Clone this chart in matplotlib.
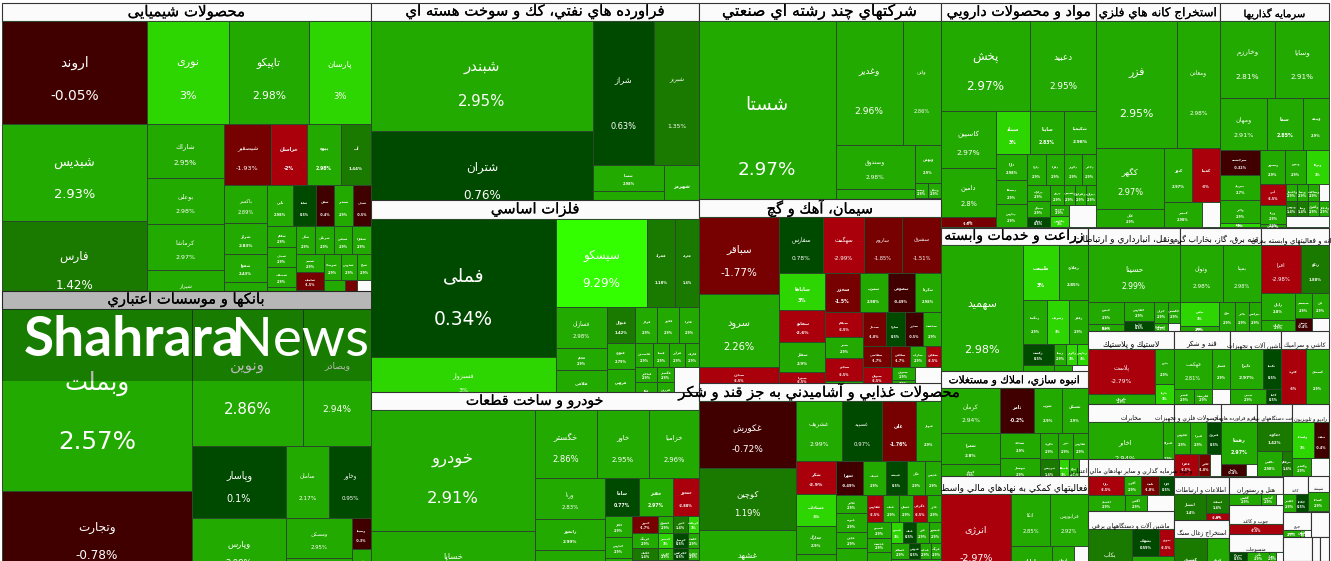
import matplotlib
matplotlib.use('Agg')
import matplotlib.pyplot as plt
import matplotlib.patheffects as pe
from matplotlib.patches import Rectangle

# values: names, change in percent, tile area (px^2) and
# the run lengths of the treemap strips (+n column on the left, -n row on top)
# None marks a tile without data, those are drawn white
chem_names = ['اروند', 'شبدیس', 'فارس', 'نوری', 'تاپیکو', 'پارسان', 'شاراك', 'بوعلی', 'كرماشا', 'شیراز',
              'شیصفیر', 'خراسان', 'بیوه', 'آپ', 'باكسر', 'شراز', 'شفوا', 'شیران', 'نابی', 'شلیا', 'شفن', 'شغدیر', 'شپلی',
              'شكام', 'شملی', 'شصدف', 'شكلر', 'شگل', 'شرنگی', 'شپاس', 'شفارا', 'شسم', 'شلعاب', 'شكبیر',
              'شوینده', 'شدوص', 'شیخ', 'شتوكا', 'شهام', '']
chem_changes = [-0.05, 2.93, 1.42, 3, 2.98, 3, 2.95, 2.98, 2.97, 2.9,
                -1.93, -2, 2.98, 1.44, 2.89, 2.83, 2.43, 2.9, 2.98, 0.5, -0.4, 2.9, -0.5,
                2.9, 2.9, 2.9, 2.9, 2.9, 2.9, 2.9, 2.9, 2.9, -1.5, 2.9,
                2.9, 2.9, 2.9, 2.9, -1.5, None]
chem_areas = [14935, 13920, 12760, 8446, 8240, 6386, 4158, 3542, 3542, 3003,
              2867, 2196, 2074, 1830, 1634, 1333, 1204, 1161, 1066, 943, 738, 779, 738,
              609, 580, 580, 638, 532, 532, 504, 532, 486, 486, 513,
              442, 416, 364, 609, 348, 406]
chem_runs = [3, -3, 4, -4, 4, -5, 4, -4, 3, -3, -3]

bank_names = ['وبملت', 'وتجارت', 'ونوین', 'وبصادر', 'وپاسار', 'سامان', 'وخاور', 'وپارس', 'ومسكن', 'وكار', 'وسینا', 'وشهر']
bank_changes = [2.57, -0.78, 2.86, 2.94, 0.1, 2.17, 0.95, 2.98, 2.95, 2.9, -0.3, 2.9]
bank_areas = [34580, 16910, 15207, 9316, 6768, 3096, 3024, 5828, 2640, 1452, 589, 589]
bank_runs = [2, -2, -3, 1, 2, 2]

refinery_names = ['شبندر', 'شتران', 'شراز', 'شبریز', 'شسپا', 'شنفت', 'شهرمز']
refinery_changes = [2.95, 0.76, 0.63, 1.35, 2.98, 2.9, 2.98]
refinery_areas = [24420, 19536, 8784, 6480, 1846, 1988, 1890]
refinery_runs = [2, -2, 2, 1]

metal_names = ['فملی', 'فسبزوار', 'سیسکو', 'فمراد', 'فلوله', 'فسازان', 'فجام', 'فلامی', 'فنوال', 'فولاژ', 'فخوز', 'فایرا',
               'فنورد', 'فروس', 'فاسمین', 'فپنتا', 'فرآور', 'فاراك', 'فباهنر', 'فكا', 'فگستر', 'فزرین', '']
metal_changes = [0.34, 3, 9.29, 1.18, 1.4, 2.98, 2.9, 2.9, 1.42, 2.9, 2.9, 2.9,
                 2.79, 2.9, 2.9, 2.9, 2.9, 2.9, 2.9, 2.9, 2.9, 2.9, None]
metal_areas = [25530, 8510, 8008, 2464, 2112, 2091, 1122, 1683, 1008, 792, 792, 720,
               728, 952, 432, 384, 384, 336, 330, 462, 255, 357, 900]
metal_runs = [2, -3, 3, -4, 2, -4, 2, 2, 1]

auto_names = ['خودرو', 'خساپا', 'خگستر', 'خاور', 'خزامیا', 'ورنا', 'رانفور', 'خبهمن', 'ساما', 'خفنر', 'خمحور',
              'خكار', 'خپارس', 'ختوقا', 'خمهر', 'خشرق', 'ختور', 'خریخت', 'خرینگ', 'خنصیر', 'خوساز', 'خلنت', 'خكمك', 'خاذین', 'خچرخش', 'خكاوه', 'خمحركه']
auto_changes = [2.91, 2.9, 2.86, 2.95, 2.96, 2.83, 2.99, 2.9, 0.77, 2.97, -2.88,
                2.9, 2.9, 2.9, -1.7, 2.9, 1.4, 3, 2.9, 3, 0.5, 2.9, 1.4, 2.9, 0.5, 2.9, 2.9]
auto_areas = [19844, 10004, 4216, 3536, 3400, 2870, 2170, 2940, 1292, 1292, 988,
              567, 567, 918, 442, 255, 255, 187, 390, 225, 225, 165, 312, 180, 180, 132, 2144]
auto_runs = [2, -3, 3, -3, 3, -4, -4, -4, 1]

multi_names = ['شستا', 'وغدیر', 'واتی', 'وصندوق', 'وبانك', 'وبهمن', 'وسپه', 'ونیكی', 'وصنعت']
multi_changes = [2.97, 2.96, 2.86, 2.98, 2.9, 2.9, 2.9, 2.9, 2.9]
multi_areas = [27744, 8308, 4712, 3476, 2844, 988, 195, 195, 702]
multi_runs = [1, -2, 2, -1, -2, 1]

cement_names = ['سباقر', 'سرود', 'سمازن', 'سفارس', 'سهگمت', 'ساروم', 'سشرق', 'ساباها', 'سفانو', 'سفار', 'سبزوا',
                'سخزر', 'سغرب', 'سصوفی', 'سكرما', 'سیلام', 'سنیر', 'سبجنو', 'سكارون', 'سمتاز', 'ساوه', 'سدور', 'سدشت',
                'سفاسی', 'سخاش', 'ساراب', 'سقاین', 'سبهان', 'سنوین', 'سیدكو', '']
cement_changes = [-1.77, 2.26, -2.5, 0.78, -2.99, -1.85, -1.51, 3, -2.6, 2.9, -2.5,
                  -1.5, 2.98, -0.49, 2.98, -2.5, 2.9, -2.5, 2.9, -1.8, 0.5, -0.5, 2.9,
                  -1.7, -1.7, 2.9, -2.5, -2.5, 2.9, 2.9, None]
cement_areas = [6160, 5840, 1520, 2464, 2296, 2128, 2184, 1702, 1472, 1380, 644,
                1326, 1092, 1053, 1014, 925, 777, 851, 185, 782, 646, 612, 612,
                588, 399, 336, 315, 551, 299, 138, 494]
cement_runs = [3, -4, 4, -4, 4, -4, -4, 1, 2, 1]

food_names = ['غكورش', 'كوچین', 'غشهد', 'غشریف', 'غسپید', 'غلی', 'غبهار', 'شكر', 'غشاداب', 'غمارگ', 'غدام',
              'غمهرا', 'غنیلك', 'غبیشه', 'غگل', 'غدیس', 'غالبر', 'غپونه', 'غچین', 'غپینو',
              'غفارس', 'غناب', 'غشان', 'غگرجی', 'غاذر', 'غصینو', 'غدشت', 'غویتا', 'غمینو', 'غپاك', 'غزر', 'غبشهر',
              'غسالم', 'غنوش', 'غمایه', 'غرنگ', 'غسهل']
food_changes = [-0.72, 1.19, 2.9, 2.99, 0.97, -1.76, 2.9, -2.9, 3, 2.9, 2.9,
                -0.49, 2.9, 0.5, 2.9, 2.9, 2.9, 2.9, 2.9, 2.9,
                -2.5, 2.9, 2.9, -2.5, 2.9, 2.9, 2.9, 2.9, 3, 0.5, 2.9, 2.9,
                2.9, 0.5, 2.9, 2.9, 2.9]
food_areas = [6499, 6014, 6014, 2700, 2400, 2040, 1500, 1287, 1248, 1092, 1482,
              918, 782, 714, 612, 544, 558, 589, 496, 1364,
              432, 432, 378, 378, 378, 384, 336, 960, 252, 273, 273, 252,
              288, 176, 176, 160, 1650]
food_runs = [3, -4, 4, -5, 4, -5, 3, -4, -4, -1]

pharma_names = ['پخش', 'دعبید', 'كاسپین', 'دامین', 'دالبر', 'سیناد', 'ساینا', 'شكیمیا', 'دارا', 'دسبحا', 'دپارس',
                'داوه', 'دفرا', 'دكوثر', 'دجابر', 'درازك', 'تیپیكو', 'دتماد', 'دروز', 'دشیمی', 'دزهراوی', 'دیران', 'دتوزیع', 'دقاضی', '']
pharma_changes = [2.97, 2.95, 2.97, 2.8, -1.8, 3, 2.83, 2.98, 2.98, 2.9, 2.9,
                  2.9, 2.9, 2.9, 2.9, 2.9, 2.9, 0.5, 2.9, 2.9, 2.9, 2.9, 2.9, 3, None]
pharma_areas = [8010, 5940, 3135, 2695, 550, 1462, 1462, 1376, 806, 744, 713,
                589, 558, 558, 434, 368, 368, 230, 280, 220, 220, 200, 209, 209, 594]
pharma_runs = [-2, 3, -3, 3, -4, 3, -4, 2, 1]

mining_names = ['فزر', 'ومعادن', 'كگهر', 'كگل', 'كنور', 'كمینا', 'كمسر', '']
mining_changes = [2.95, 2.98, 2.97, 2.9, 2.97, -3, 2.98, None]
mining_areas = [10287, 5461, 4148, 1224, 1512, 1512, 950, 450]
mining_runs = [-2, 2, -2, 1, 1]

invest_names = ['وخارزم', 'وسایا', 'ومهان', 'سما', 'وبیمه', 'سرچشمه', 'میرداد', 'والبر', 'وصنا', 'وسپهر', 'ونیرو', 'وتوكا',
                'آپرد', 'ورنا', 'وكبهمن', 'واعتبار', 'وپسا', 'وساخت', '', 'وتوس', 'وصا', 'وآفری', 'ولتجار', '']
invest_changes = [2.81, 2.91, 2.91, 2.85, 2.9, -0.32, 2.7, 2.9, 3, 2.9, 2.9, 3,
                  -2.5, 2.9, 2.9, 2.9, 2.9, 2.9, None, 1.4, 1.4, 2.9, 2.9, None]
invest_areas = [4235, 4158, 2444, 1872, 1352, 1000, 1000, 920, 160, 850, 714, 782,
                546, 494, 78, 187, 187, 187, 170, 165, 165, 165, 150, 473]
invest_runs = [-2, -3, 4, -3, 3, -4, -4, -1]

agri_names = ['سهمید', 'طبیعت', 'زملارد', 'زمگسا', 'زشریف', 'زفجر', 'زكشت', 'زشگزا', 'زبینا', 'زكوثر', 'زپارس', 'زدشت', '']
agri_changes = [2.98, 3, 2.85, 2.9, 3, 2.9, 0.5, 2.9, 2.9, 3, 3, 2.9, None]
agri_areas = [11808, 1980, 1595, 1056, 968, 836, 651, 744, 252, 231, 231, 432, 384]
agri_runs = [1, -2, -3, 2, -3, 1, 1]

estate_names = ['كرمان', 'ثامر', 'ثغرب', 'ثمسكن', 'ثعمرا', 'كهرم', 'ثشاهد', 'ثبهساز', 'ثالوند', 'ثنور', 'ثفارس',
                'ثپردیس', 'ثاصفا', 'ثباغ', '']
estate_changes = [2.94, -0.2, 2.9, 2.9, 2.8, 2.9, 2.9, 2.9, 2.9, 2.9, 2.9, 1.4, 3, 2.9, None]
estate_areas = [2655, 1530, 1260, 1170, 1829, 1003, 1000, 920, 468, 390, 390, 418, 220, 220, 198]
estate_runs = [-4, 2, 2, -3, 1, 1, 1, 1]

finance_names = ['انرژی', 'اتكا', 'فرابورس', 'مارلیك', 'آرمان', '']
finance_changes = [-2.97, 2.85, 2.92, 2.9, 2.9, None]
finance_areas = [6160, 2028, 1976, 1476, 792, 504]
finance_runs = [1, -2, 1, 1, 1]

transport_names = ['حسینا', 'حپترو', 'حتوكا', 'حفارس', 'حآسا', 'حریل', 'حشكوه', 'حكشتی', '']
transport_changes = [2.99, 2.9, 2.9, 2.9, 0.5, 2.9, 2.9, 2.9, None]
transport_areas = [5152, 792, 252, 570, 300, 294, 112, 252, 96]
transport_runs = [-1, 2, 2, 2, 2]

power_names = ['وتوان', 'بمپنا', 'بپاس', 'بكام', 'برق', 'بالبر', 'بترانس']
power_changes = [2.98, 2.98, 3, 2.9, 2.9, 2.9, 2.9]
power_areas = [2408, 2128, 936, 195, 464, 406, 348]
power_runs = [-2, 2, 1, 1, 1]

it_names = ['افرا', 'رتكو', 'رایان', 'مداران', 'سیستم', 'فن', 'توسن', '']
it_changes = [-2.98, 1.88, 2.8, 2.9, 2.9, 2.9, -0.4, None]
it_areas = [1880, 1316, 918, 374, 425, 425, 221, 221]
it_runs = [-2, 2, -2, 1, 1]

plastic_names = ['پلاست', 'پكرمان', 'پدرو', 'پارتا']
plastic_changes = [-2.79, 2.9, 2.9, 3]
plastic_areas = [3015, 737, 665, 399]
plastic_runs = [2, 2]

sugar_names = ['قهكمت', 'قشكر', 'قشیر', 'قلرست', '']
sugar_changes = [2.81, 2.9, 2.9, 2.9, None]
sugar_areas = [1520, 720, 300, 270, 270]
sugar_runs = [-2, 1, 1, 1]

machine_names = ['تایرا', 'تكمبا', 'تپمپی', 'كاما']
machine_changes = [2.97, 0.5, 2.9, 0.5]
machine_areas = [1320, 720, 540, 225]
machine_runs = [-2, 1, 1]

ceramic_names = ['كلوند', 'كسعدی']
ceramic_changes = [-3, 2.9]
ceramic_areas = [1375, 1265]
ceramic_runs = [1, 1]

telecom_names = ['اخابر', 'همراه']
telecom_changes = [2.94, 2.9]
telecom_areas = [3750, 550]
telecom_runs = [1, 1]

metalwork_names = ['فجوش', 'فبیرا', 'فنرژی', 'فافزا', 'لخزر', '']
metalwork_changes = [2.9, 2.9, 0.5, -2.5, -1.8, None]
metalwork_areas = [512, 544, 448, 550, 242, 242]
metalwork_runs = [-3, 1, 1, 1]

rubber_names = ['رهشا', 'پاسا', '']
rubber_changes = [2.97, -0.4, None]
rubber_areas = [1512, 300, 132]
rubber_runs = [-1, 1, 1]

electric_names = ['دماوند', 'بالاس', 'مرقام']
electric_changes = [1.42, 2.98, 1.4]
electric_areas = [1015, 625, 250]
electric_runs = [-1, 1, 1]

radio_names = ['ولساپا', 'تملت', 'وكغدیر', '']
radio_changes = [3, -0.4, 2.9, None]
radio_areas = [792, 540, 342, 324]
radio_runs = [-2, 1, 1]

fund_names = ['دارا', 'آكورد', 'ثابت', 'كارا', 'اعتماد', 'آگاس', '']
fund_changes = [-2.5, 2.9, -1.8, 0.5, 2.9, 2.9, None]
fund_areas = [684, 323, 342, 285, 592, 352, 432]
fund_runs = [-4, 1, 1, 1]

info_names = ['انتشار', 'اسفند', 'افق']
info_changes = [1.4, 1.4, -2.5]
info_areas = [832, 437, 161]
info_runs = [1, 2]

device_names = ['بكاب', 'بشهاب', 'بموتو', 'بتك']
device_changes = [1.17, 0.59, -2.5, 2.9]
device_areas = [2684, 702, 405, 1428]
device_runs = [1, -2, -1]

coal_names = ['كشرق', 'كروم']
coal_changes = [1.4, 2.9]
coal_areas = [1716, 1144]
coal_runs = [1, 1]

hotel_names = ['گكیش', 'گپارس', '']
hotel_changes = [2.9, 2.9, None]
hotel_areas = [440, 198, 99]
hotel_runs = [1, 1, 1]

wood_names = ['مالی']
wood_changes = [-2.5]
wood_areas = [540]
wood_runs = [1]

textile_names = ['نبروج', 'نگین', 'نمرا', '']
textile_changes = [0.5, 2.9, 2.9, None]
textile_areas = [162, 198, 60, 66]
textile_runs = [1, 1, 1, 1]

paper_names = ['چفیبر', 'چكاپا']
paper_changes = [2.9, 0.5]
paper_areas = [216, 216]
paper_runs = [1, 1]

glass_names = ['كساپا']
glass_changes = [2.9]
glass_areas = [399]
glass_runs = [1]

leather_names = ['بشیر', 'بگیلان', '']
leather_changes = [2.9, 3, None]
leather_areas = [168, 42, 66]
leather_runs = [1, 1, 1]

# title, data, then x0, x1, header top, tile top, tile bottom, title size (px)
# later sectors paint over the overflow of earlier ones, same as the page does
sectors = [
    ('محصولات شیمیایی', chem_names, chem_changes, chem_areas, chem_runs, 2, 371, 3, 21, 309, 15),
    ('بانكها و موسسات اعتباري', bank_names, bank_changes, bank_areas, bank_runs, 2, 371, 291, 309, 580, 14.7),
    ('فراورده هاي نفتي، كك و سوخت هسته اي', refinery_names, refinery_changes, refinery_areas, refinery_runs, 371, 699, 3, 21, 219, 14.9),
    ('شركتهاي چند رشته اي صنعتي', multi_names, multi_changes, multi_areas, multi_runs, 699, 941, 3, 21, 225, 15.7),
    ('مواد و محصولات دارويي', pharma_names, pharma_changes, pharma_areas, pharma_runs, 941, 1096, 3, 21, 227, 14.3),
    ('استخراج كانه هاي فلزي', mining_names, mining_changes, mining_areas, mining_runs, 1096, 1220, 3, 21, 227, 12),
    ('سرمايه گذاريها', invest_names, invest_changes, invest_areas, invest_runs, 1220, 1329, 3, 21, 227, 10),
    ('فلزات اساسي', metal_names, metal_changes, metal_areas, metal_runs, 371, 699, 200, 219, 403, 14.8),
    ('سيمان، آهك و گچ', cement_names, cement_changes, cement_areas, cement_runs, 699, 941, 199, 217, 386, 14.6),
    ('زراعت و خدمات وابسته', agri_names, agri_changes, agri_areas, agri_runs, 941, 1088, 228, 245, 389, 14),
    ('حمل ونقل، انبارداري و ارتباطات', transport_names, transport_changes, transport_areas, transport_runs, 1088, 1180, 228, 245, 331, 9),
    ('عرضه برق، گاز، بخاراب گرم', power_names, power_changes, power_areas, power_runs, 1180, 1261, 228, 245, 331, 8),
    ('رايانه و فعاليتهاي وابسته به آن', it_names, it_changes, it_areas, it_runs, 1261, 1329, 228, 245, 331, 7),
    ('انبوه سازي، املاك و مستغلات', estate_names, estate_changes, estate_areas, estate_runs, 941, 1088, 371, 388, 481, 10.6),
    ('لاستيك و پلاستيك', plastic_names, plastic_changes, plastic_areas, plastic_runs, 1088, 1174, 331, 349, 405, 8),
    ('قند و شكر', sugar_names, sugar_changes, sugar_areas, sugar_runs, 1174, 1230, 331, 349, 404, 7),
    ('ماشين آلات و تجهيزات', machine_names, machine_changes, machine_areas, machine_runs, 1230, 1281, 331, 349, 404, 6),
    ('كاشي و سراميك', ceramic_names, ceramic_changes, ceramic_areas, ceramic_runs, 1281, 1329, 331, 349, 404, 6),
    ('خودرو و ساخت قطعات', auto_names, auto_changes, auto_areas, auto_runs, 371, 699, 392, 410, 592, 14.1),
    ('محصولات غذايي و آشاميدني به جز قند و شكر', food_names, food_changes, food_areas, food_runs, 699, 941, 383, 401, 592, 14.7),
    ('مخابرات', telecom_names, telecom_changes, telecom_areas, telecom_runs, 1088, 1174, 404, 422, 472, 6),
    ('ساخت محصولات فلزي و تجهيزات', metalwork_names, metalwork_changes, metalwork_areas, metalwork_runs, 1174, 1221, 404, 422, 476, 6),
    ('لاستيك و فراورده هاي آن', rubber_names, rubber_changes, rubber_areas, rubber_runs, 1221, 1257, 404, 422, 476, 5),
    ('ساخت دستگاههاي برقي', electric_names, electric_changes, electric_areas, electric_runs, 1257, 1292, 404, 422, 476, 5),
    ('راديو و تلويزيون', radio_names, radio_changes, radio_areas, radio_runs, 1292, 1329, 404, 422, 476, 5),
    ('فعاليتهاي كمكي به نهادهاي مالي واسط', finance_names, finance_changes, finance_areas, finance_runs, 941, 1088, 476, 494, 582, 9),
    ('وجوه سرمايه گذاري و ساير نهادهاي مالي اعتباري', fund_names, fund_changes, fund_areas, fund_runs, 1088, 1174, 459, 476, 511, 6),
    ('اطلاعات و ارتباطات', info_names, info_changes, info_areas, info_runs, 1174, 1229, 477, 494, 520, 6),
    ('هتل و رستوران', hotel_names, hotel_changes, hotel_areas, hotel_runs, 1229, 1283, 477, 494, 505, 6),
    ('ماشين آلات و دستگاههاي برقي', device_names, device_changes, device_areas, device_runs, 1088, 1174, 511, 529, 590, 6),
    ('استخراج زغال سنگ', coal_names, coal_changes, coal_areas, coal_runs, 1174, 1229, 520, 538, 590, 6),
    ('چوب و كاغذ', wood_names, wood_changes, wood_areas, wood_runs, 1229, 1283, 505, 524, 534, 5),
    ('منسوجات', textile_names, textile_changes, textile_areas, textile_runs, 1229, 1283, 534, 552, 561, 5),
    ('كاغذ', paper_names, paper_changes, paper_areas, paper_runs, 1283, 1308, 476, 494, 512, 4),
    ('چرم', leather_names, leather_changes, leather_areas, leather_runs, 1283, 1311, 512, 530, 537, 4),
    ('شيشه', glass_names, glass_changes, glass_areas, glass_runs, 1308, 1329, 476, 492, 511, 4),
]
empty_boxes = [(1311, 512, 1329, 537), (1283, 537, 1312, 561), (1312, 537, 1320, 561), (1320, 537, 1329, 561)]

TEXT_FONT = 'DejaVu Sans'

# first code point of the isolated, final, initial, medial forms
FOUR = {'ب': 0xFE8F, 'ت': 0xFE95, 'ث': 0xFE99, 'ج': 0xFE9D, 'ح': 0xFEA1, 'خ': 0xFEA5, 'س': 0xFEB1,
        'ش': 0xFEB5, 'ص': 0xFEB9, 'ض': 0xFEBD, 'ط': 0xFEC1, 'ظ': 0xFEC5, 'ع': 0xFEC9, 'غ': 0xFECD,
        'ف': 0xFED1, 'ق': 0xFED5, 'ك': 0xFED9, 'ل': 0xFEDD, 'م': 0xFEE1, 'ن': 0xFEE5, 'ه': 0xFEE9,
        'ي': 0xFEF1, 'پ': 0xFB56, 'چ': 0xFB7A, 'ک': 0xFB8E, 'گ': 0xFB92, 'ی': 0xFBFC}
TWO = {'آ': 0xFE81, 'أ': 0xFE83, 'ا': 0xFE8D, 'د': 0xFEA9, 'ذ': 0xFEAB, 'ر': 0xFEAD, 'ز': 0xFEAF,
       'و': 0xFEED, 'ژ': 0xFB8A}


def shape(text):
    # matplotlib does no arabic shaping, so pick the joined forms and reverse
    out = []
    i = 0
    while i < len(text):
        ch = text[i]
        prev = text[i - 1] if i > 0 else ' '
        nxt = text[i + 1] if i + 1 < len(text) else ' '
        joined = prev in FOUR
        if ch == 'ل' and nxt in 'اآ':
            out.append(chr(0xFEFC if joined else 0xFEFB))
            i += 2
            continue
        if ch in FOUR:
            form = (2 if nxt in FOUR or nxt in TWO else 0) + (1 if joined else 0)
            # 0 iso, 1 final, 2 initial, 3 medial
            out.append(chr(FOUR[ch] + form))
        elif ch in TWO:
            out.append(chr(TWO[ch] + (1 if joined else 0)))
        else:
            out.append(ch)
        i += 1
    return ''.join(reversed(out))


def change_colour(value):
    if value is None:
        return '#fbfbfb'
    if value > 5:
        return '#33ff00'
    if value >= 3:
        return '#2dd600'
    if value >= 2:
        return '#22aa00'
    if value >= 1:
        return '#1a7a00'
    if value >= 0:
        return '#004a00'
    if value > -1:
        return '#400000'
    if value > -2:
        return '#770000'
    return '#aa000c'


def layout(areas, runs, x0, y0, x1, y1):
    # cut strips off the remaining box, each in proportion to its area
    boxes = []
    left = sum(areas)
    pos = 0
    for run in runs:
        n = abs(run)
        part = areas[pos:pos + n]
        share = sum(part) / left
        if run > 0:
            edge = x0 + (x1 - x0) * share
            y = y0
            for a in part:
                h = (y1 - y0) * a / sum(part)
                boxes.append((x0, y, edge, y + h))
                y += h
            x0 = edge
        else:
            edge = y0 + (y1 - y0) * share
            x = x0
            for a in part:
                w = (x1 - x0) * a / sum(part)
                boxes.append((x, y0, x + w, edge))
                x += w
            y0 = edge
        left -= sum(part)
        pos += n
    return boxes


def px(size):
    return size * 0.72


fig = plt.figure(figsize=(13.31, 5.61), dpi=100)
ax = fig.add_axes([0, 0, 1, 1])
ax.set_xlim(0, 1331)
ax.set_ylim(561, 0)
ax.axis('off')

z = 1
for title, names, changes, areas, runs, x0, x1, top, tile_top, bottom, title_size in sectors:
    ax.add_patch(Rectangle((x0, top), x1 - x0, tile_top - top, fc='#fbfbfb', ec='#333333', lw=0.8, zorder=z))
    label = ax.text((x0 + x1) / 2, tile_top - min(title_size * 0.68, 9), shape(title), fontsize=px(title_size), family=TEXT_FONT,
                    color='black', ha='center', va='center', zorder=z + 0.6, clip_on=True)
    if title_size >= 10:
        # the page's header font is a little heavier than DejaVu
        label.set_path_effects([pe.withStroke(linewidth=0.12, foreground='black')])
    boxes = layout(areas, runs, x0, tile_top, x1, bottom)
    for name, change, (bx0, by0, bx1, by1) in zip(names, changes, boxes):
        w = bx1 - bx0
        h = by1 - by0
        ax.add_patch(Rectangle((bx0, by0), w, h, fc=change_colour(change), ec='#2b4a2b', lw=0.7, zorder=z + 0.2))
        if change is None:
            continue
        size = max(0.135 * min(w, h), 3.2)
        weight = 'bold' if size < 5 else 'normal'
        cx = (bx0 + bx1) / 2
        cy = (by0 + by1) / 2
        ax.text(cx, cy - 0.09 * h, shape(name), fontsize=px(size), family=TEXT_FONT, weight=weight, color='white',
                ha='center', va='center', zorder=z + 0.4, clip_on=True)
        ax.text(cx, cy + 0.23 * h, f'{change:g}%', fontsize=px(size), family=TEXT_FONT, weight=weight, color='white',
                ha='center', va='center', zorder=z + 0.4, clip_on=True)
    z += 1

for bx0, by0, bx1, by1 in empty_boxes:
    ax.add_patch(Rectangle((bx0, by0), bx1 - bx0, by1 - by0, fc='#fbfbfb', ec='#333333', lw=0.8, zorder=z))

# watermark band and logo over everything on the left
z += 1
ax.add_patch(Rectangle((2, 291), 370, 90, fc='black', ec='none', alpha=0.27, zorder=z))
ax.text(24, 356, 'Shahrara', fontsize=px(55), family='Lato', weight='bold', color='white', ha='left', va='baseline', zorder=z + 1)
ax.text(231, 356, 'News', fontsize=px(55), family='Lato', weight='normal', color='white', ha='left', va='baseline', zorder=z + 1)

fig.savefig('out.png', dpi=100)
